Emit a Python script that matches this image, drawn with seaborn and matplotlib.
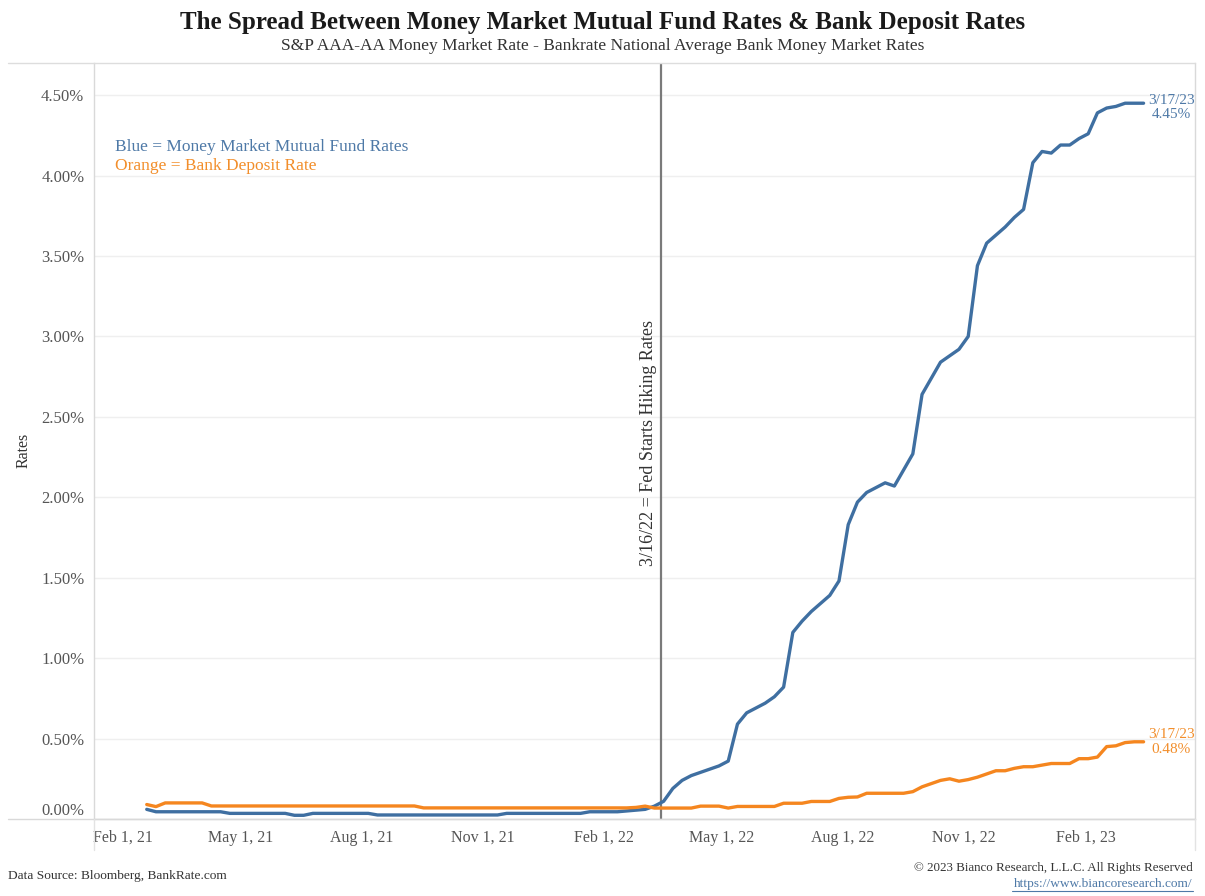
import matplotlib
matplotlib.use("Agg")
import matplotlib.dates as mdates
import matplotlib.pyplot as plt
import pandas as pd
import seaborn as sns
from matplotlib.lines import Line2D
from matplotlib.ticker import FuncFormatter, MultipleLocator

# weekly readings, 2/19/21 .. 3/17/23
dates = pd.date_range("2021-02-19", periods=109, freq="7D")

mmf_rate = [
    0.06, 0.045, 0.045, 0.045, 0.045, 0.045, 0.045, 0.045, 0.045, 0.035,
    0.035, 0.035, 0.035, 0.035, 0.035, 0.035, 0.023, 0.023, 0.035, 0.035,
    0.035, 0.035, 0.035, 0.035, 0.035, 0.025, 0.025, 0.025, 0.025, 0.025,
    0.025, 0.025, 0.025, 0.025, 0.025, 0.025, 0.025, 0.025, 0.025, 0.035,
    0.035, 0.035, 0.035, 0.035, 0.035, 0.035, 0.035, 0.035, 0.045, 0.045,
    0.045, 0.045, 0.05, 0.055, 0.06, 0.08, 0.11, 0.19, 0.24, 0.27,
    0.29, 0.31, 0.33, 0.36, 0.59, 0.66, 0.69, 0.72, 0.76, 0.82,
    1.16, 1.23, 1.29, 1.34, 1.39, 1.48, 1.83, 1.97, 2.03, 2.06,
    2.09, 2.07, 2.17, 2.27, 2.64, 2.74, 2.84, 2.88, 2.92, 3.00,
    3.44, 3.58, 3.63, 3.68, 3.74, 3.79, 4.08, 4.15, 4.14, 4.19,
    4.19, 4.23, 4.26, 4.39, 4.42, 4.43, 4.45, 4.45, 4.45,
]

bank_rate = [
    0.09, 0.077, 0.10, 0.10, 0.10, 0.10, 0.10, 0.081, 0.081, 0.081,
    0.081, 0.081, 0.081, 0.081, 0.081, 0.081, 0.081, 0.081, 0.081, 0.081,
    0.081, 0.081, 0.081, 0.081, 0.081, 0.081, 0.081, 0.081, 0.081, 0.081,
    0.069, 0.069, 0.069, 0.069, 0.069, 0.069, 0.069, 0.069, 0.069, 0.069,
    0.069, 0.069, 0.069, 0.069, 0.069, 0.069, 0.069, 0.069, 0.069, 0.069,
    0.069, 0.069, 0.069, 0.072, 0.08, 0.068, 0.068, 0.068, 0.068, 0.068,
    0.08, 0.08, 0.08, 0.068, 0.078, 0.078, 0.078, 0.078, 0.078, 0.098,
    0.098, 0.098, 0.109, 0.109, 0.109, 0.128, 0.135, 0.137, 0.16, 0.16,
    0.16, 0.16, 0.16, 0.17, 0.20, 0.22, 0.24, 0.25, 0.235, 0.245,
    0.26, 0.28, 0.30, 0.30, 0.315, 0.325, 0.325, 0.335, 0.345, 0.345,
    0.345, 0.375, 0.375, 0.385, 0.45, 0.455, 0.475, 0.48, 0.48,
]

series_names = ["Money Market Mutual Fund Rates", "Bank Deposit Rate"]
hike_date = pd.Timestamp("2022-03-16")
hike_label = "3/16/22 = Fed Starts Hiking Rates"

BLUE = "#3f6fa1"
ORANGE = "#f5861f"
BLUE_TXT = "#4e79a7"
ORANGE_TXT = "#f28e2b"
TICK_TXT = "#555555"

df = pd.DataFrame({
    "date": list(dates) * 2,
    "rate": mmf_rate + bank_rate,
    "series": [series_names[0]] * len(dates) + [series_names[1]] * len(dates),
})

sns.set_theme(style="white")
plt.rcParams["font.family"] = ["Liberation Serif", "DejaVu Serif"]

W, H = 1205, 896
fig = plt.figure(figsize=(W / 100, H / 100), dpi=100)
ax = fig.add_axes([94 / W, (H - 819) / H, (1195 - 94) / W, (819 - 63) / H])

sns.lineplot(data=df, x="date", y="rate", hue="series",
             palette={series_names[0]: BLUE, series_names[1]: ORANGE},
             linewidth=2.4, legend=False, ax=ax)

ax.axvline(hike_date, color="#7a7a7a", lw=1.6, zorder=1)
ax.annotate(hike_label, xy=(hike_date, 1.57), xytext=(-3, 0),
            textcoords="offset points", rotation=90, ha="right", va="bottom",
            fontsize=13, color="#333333")

ax.set_xlim(pd.Timestamp("2021-01-10"), pd.Timestamp("2023-04-25"))
ax.set_ylim(0, 4.70)

# the zero label is drawn separately, lifted inside the pane like Tableau does
ax.yaxis.set_major_locator(MultipleLocator(0.5))
ax.yaxis.set_major_formatter(FuncFormatter(lambda v, pos: "" if abs(v) < 1e-9 else f"{v:.2f}%"))
ax.xaxis.set_major_locator(mdates.MonthLocator(bymonth=[2, 5, 8, 11]))
ax.xaxis.set_major_formatter(mdates.DateFormatter("%b 1, %y"))
ax.xaxis.set_minor_locator(mdates.MonthLocator())

ax.grid(axis="y", color="#efefef", lw=1)
ax.grid(axis="x", visible=False)
ax.set_xlabel("")
ax.set_ylabel("")

ax.tick_params(axis="y", length=0, pad=7, labelsize=12, labelcolor=TICK_TXT)
ax.tick_params(axis="x", which="major", length=4, width=0.8, color="#dddddd",
               pad=4, labelsize=11.5, labelcolor=TICK_TXT)
ax.tick_params(axis="x", which="minor", length=4, width=0.8, color="#dddddd")

for side in ["left", "right", "bottom"]:
    ax.spines[side].set_color("#d9d9d9")
    ax.spines[side].set_linewidth(1)
ax.spines["top"].set_visible(False)

ax.annotate(f"{0:.2f}%", xy=(0, 0), xycoords="axes fraction", xytext=(-7, 0),
            textcoords="offset points", ha="right", va="bottom",
            fontsize=12, color=TICK_TXT)

# pane borders
fig.add_artist(Line2D([8 / W, 1195 / W], [1 - 63 / H] * 2, color="#dddddd", lw=1))
fig.add_artist(Line2D([8 / W, 1195 / W], [1 - 819 / H] * 2, color="#d9d9d9", lw=1))
fig.add_artist(Line2D([94 / W] * 2, [1 - 819 / H, 1 - 850 / H], color="#e3e3e3", lw=1))
fig.add_artist(Line2D([1195 / W] * 2, [1 - 819 / H, 1 - 850 / H], color="#e3e3e3", lw=1))

# end labels
ax.annotate(f"3/17/23\n{mmf_rate[-1]:.2f}%", xy=(dates[-1], mmf_rate[-1]),
            xytext=(3, -3), textcoords="offset points", ha="left", va="center",
            multialignment="center", fontsize=11, color=BLUE_TXT, linespacing=1.15)
ax.annotate(f"3/17/23\n{bank_rate[-1]:.2f}%", xy=(dates[-1], bank_rate[-1]),
            xytext=(3, 0), textcoords="offset points", ha="left", va="center",
            multialignment="center", fontsize=11, color=ORANGE_TXT, linespacing=1.15)

# in-chart legend
fig.text(115 / W, 1 - 147 / H, "Blue = " + series_names[0], ha="left", va="center",
         fontsize=12.5, color=BLUE_TXT)
fig.text(115 / W, 1 - 166 / H, "Orange = " + series_names[1], ha="left", va="center",
         fontsize=12.5, color=ORANGE_TXT)

fig.text(0.5, 1 - 23 / H, "The Spread Between Money Market Mutual Fund Rates & Bank Deposit Rates",
         ha="center", va="center", fontsize=18, fontweight="bold", color="#1a1a1a")
fig.text(0.5, 1 - 46 / H,
         "S&P AAA-AA Money Market Rate - Bankrate National Average Bank Money Market Rates",
         ha="center", va="center", fontsize=12.5, color="#333333")
fig.text(24 / W, 1 - 450 / H, "Rates", rotation=90, ha="center", va="center",
         fontsize=11.5, color="#333333")

fig.text(8 / W, 1 - 876 / H, "Data Source: Bloomberg, BankRate.com", ha="left",
         va="center", fontsize=9.6, color="#333333")
fig.text(1193 / W, 1 - 868 / H, "\u00a9 2023 Bianco Research, L.L.C. All Rights Reserved",
         ha="right", va="center", fontsize=9.4, color="#333333")
fig.text(1193 / W, 1 - 884 / H, "https://www.biancoresearch.com/", ha="right",
         va="center", fontsize=9.6, color="#4e79a7")
fig.add_artist(Line2D([1012 / W, 1193 / W], [1 - 891 / H] * 2, color="#4e79a7", lw=0.8))

fig.savefig("out.png", dpi=100)
